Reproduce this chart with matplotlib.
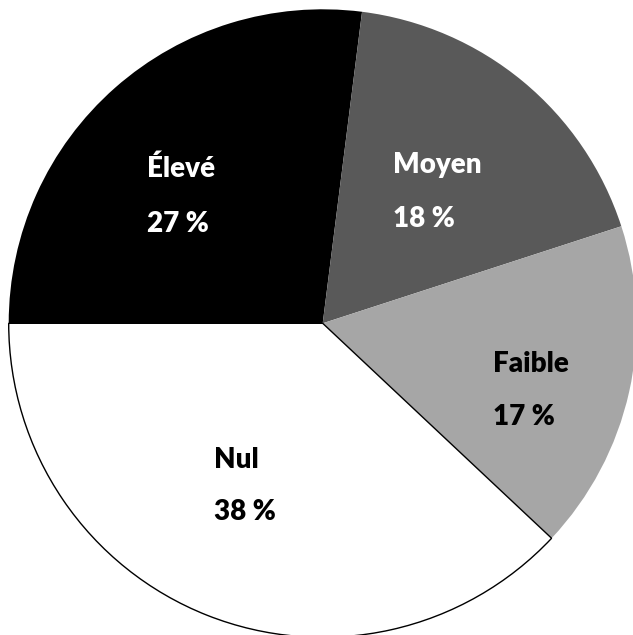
import matplotlib
matplotlib.use("Agg")
import matplotlib.pyplot as plt

# data
categories = ["Élevé", "Moyen", "Faible", "Nul"]
shares = [27, 18, 17, 38]
colors = ["#000000", "#595959", "#a6a6a6", "#ffffff"]
text_colors = ["white", "white", "black", "black"]

# label anchors (left edge, baselines of name and percent) in pie units
label_x = [-0.559, 0.224, 0.542, -0.346]
name_y = [0.466, 0.479, -0.155, -0.460]
pct_y = [0.291, 0.307, -0.324, -0.626]

plt.rcParams['font.family'] = ['Lato', 'DejaVu Sans']

fig = plt.figure(figsize=(6.33, 6.35), dpi=100)
ax = fig.add_axes([0, 0, 1, 1])

wedges, _ = ax.pie(shares, colors=colors, startangle=180, counterclock=False,
                   radius=1, center=(0, 0))
# only the white slice has an outline
wedges[3].set_edgecolor("black")
wedges[3].set_linewidth(1.0)

for i, name in enumerate(categories):
    ax.text(label_x[i], name_y[i], name, ha="left", va="baseline",
            fontsize=20, fontweight="heavy", color=text_colors[i])
    ax.text(label_x[i], pct_y[i], f"{shares[i]} %", ha="left", va="baseline",
            fontsize=20, fontweight="heavy", color=text_colors[i])

# centre of the pie sits at (322.7, 323.3) px, radius 314 px
ax.set_aspect("auto")
ax.set_xlim(-322.7 / 314, (633 - 322.7) / 314)
ax.set_ylim(-(635 - 323.3) / 314, 323.3 / 314)
ax.axis("off")

fig.savefig("out.png", dpi=100)
